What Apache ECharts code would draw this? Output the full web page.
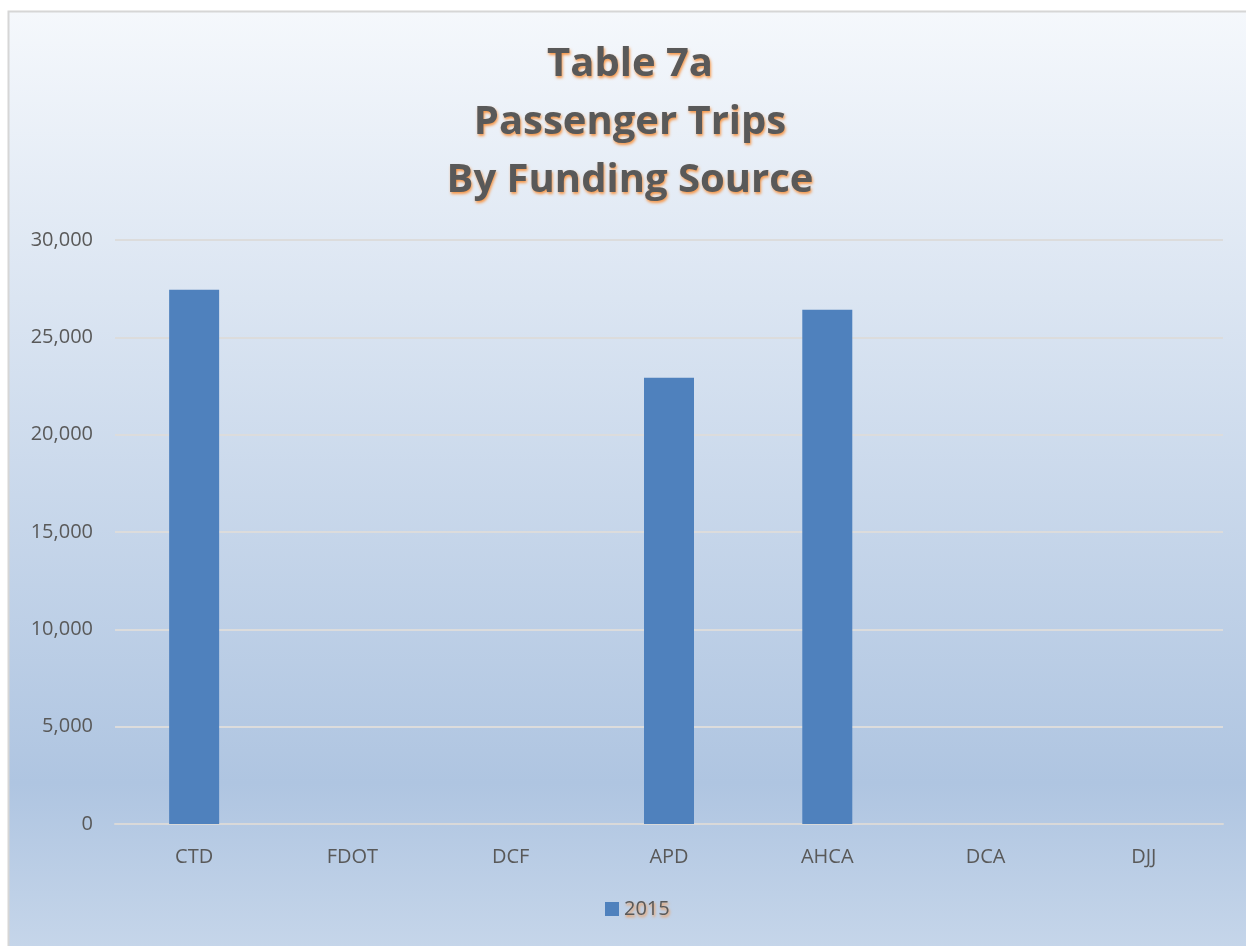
<!DOCTYPE html>
<html>
<head>
<meta charset="utf-8">
<script src="https://cdn.jsdelivr.net/npm/echarts@6/dist/echarts.min.js"></script>
<style>
  html, body { margin: 0; padding: 0; background: #fff; }
  #chart { width: 1246px; height: 946px; }
</style>
</head>
<body>
<div id="chart"></div>
<script>
var chart = echarts.init(document.getElementById('chart'));

var categories = ['CTD', 'FDOT', 'DCF', 'APD', 'AHCA', 'DCA', 'DJJ'];
var trips2015 = [27450, 0, 0, 22920, 26420, 0, 0];
var yTicks = [0, 5000, 10000, 15000, 20000, 25000, 30000];

var labelColor = '#595959';
var glow = {
    textShadowColor: '#f79646',
    textShadowBlur: 3,
    textShadowOffsetX: 1,
    textShadowOffsetY: 2
};

chart.setOption({
    backgroundColor: '#fff',
    graphic: [{
        type: 'rect',
        z: -10,
        shape: { x: 8.5, y: 11.5, width: 1240, height: 940 },
        style: {
            fill: new echarts.graphic.LinearGradient(0, 0, 0, 1, [
                { offset: 0, color: '#f5f8fc' },
                { offset: 0.82, color: '#afc5e1' },
                { offset: 1, color: '#c6d6ea' }
            ]),
            stroke: '#d6d6d6',
            lineWidth: 2
        }
    }],
    title: {
        text: 'Table 7a\nPassenger Trips\nBy Funding Source',
        left: 625,
        textAlign: 'center',
        top: 31,
        textStyle: Object.assign({
            fontFamily: 'Open Sans',
            fontWeight: 'bold',
            fontSize: 40,
            lineHeight: 58,
            color: labelColor
        }, glow)
    },
    legend: {
        bottom: 22,
        left: 600,
        itemWidth: 14,
        itemHeight: 14,
        itemGap: 6,
        icon: 'rect',
        textStyle: Object.assign({
            fontFamily: 'Open Sans',
            fontSize: 20,
            color: labelColor
        }, glow),
        data: ['2015']
    },
    grid: {
        left: 115,
        right: 23,
        top: 240,
        bottom: 122,
        containLabel: false
    },
    xAxis: {
        type: 'category',
        data: categories,
        axisLine: { lineStyle: { color: '#d9d9d9', width: 2 } },
        axisTick: { show: false },
        axisLabel: {
            margin: 23,
            fontFamily: 'Open Sans',
            fontSize: 20,
            color: labelColor
        }
    },
    yAxis: {
        type: 'value',
        min: yTicks[0],
        max: yTicks[yTicks.length - 1],
        interval: 5000,
        axisLine: { show: false },
        axisTick: { show: false },
        splitLine: { lineStyle: { color: '#dcdcdc', width: 2 } },
        axisLabel: {
            margin: 22,
            fontFamily: 'Open Sans',
            fontSize: 20,
            color: labelColor,
            formatter: function (v) {
                return v.toLocaleString('en-US');
            }
        }
    },
    series: [{
        name: '2015',
        type: 'bar',
        data: trips2015,
        barWidth: 50,
        itemStyle: { color: '#4f81bd' }
    }]
});
</script>
</body>
</html>
